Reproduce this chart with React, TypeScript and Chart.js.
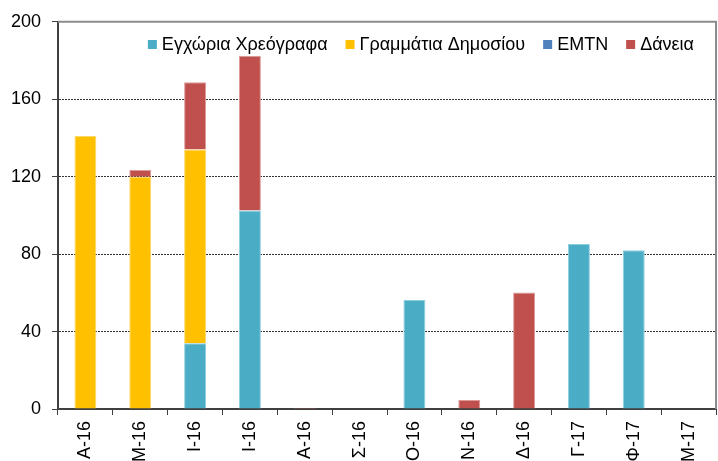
import React, { useEffect, useRef } from "react";
import { Chart, registerables } from "chart.js";

Chart.register(...registerables);

const categories = ["Α-16", "Μ-16", "Ι-16", "Ι-16", "Α-16", "Σ-16", "Ο-16", "Ν-16", "Δ-16", "Γ-17", "Φ-17", "Μ-17"];
const domesticBonds = [0, 0, 34, 102.5, 0, 0, 56.3, 0, 0, 85.2, 82, 0];
const treasuryBills = [141, 120, 100, 0, 0, 0, 0, 0, 0, 0, 0, 0];
const emtn = [0, 0, 0, 0, 0, 0, 0, 0, 0, 0, 0, 0];
const loans = [0, 3.5, 34.8, 80, 0.5, 0, 0, 4.6, 60.2, 0, 0, 0];
const yTicks = [0, 40, 80, 120, 160, 200];

const seriesLabels = ["Εγχώρια Χρεόγραφα", "Γραμμάτια Δημοσίου", "EMTN", "Δάνεια"];
const seriesColors = ["#4BACC6", "#FFC000", "#4F81BD", "#C0504D"];
const seriesBorders = ["#8ccfe0", "#ffd966", "#95b3d7", "#dc9a98"];

const FONT = "'Liberation Sans', Arial, sans-serif";

const framePlugin = {
  id: "frame",
  beforeDatasetsDraw(chart: any) {
    const { ctx, chartArea } = chart;
    ctx.save();
    ctx.strokeStyle = "#8c8c8c";
    ctx.lineWidth = 2;
    ctx.beginPath();
    ctx.moveTo(chartArea.left, chartArea.top);
    ctx.lineTo(chartArea.right, chartArea.top);
    ctx.lineTo(chartArea.right, chartArea.bottom);
    ctx.stroke();
    ctx.restore();
  },
};

const legendPlugin = {
  id: "insideLegend",
  afterDraw(chart: any) {
    const { ctx } = chart;
    ctx.save();
    ctx.font = `18px ${FONT}`;
    ctx.textBaseline = "alphabetic";
    ctx.textAlign = "left";
    const box = 9;
    const gapBoxText = 5;
    const gapItems = 18;
    const items = chart.data.datasets.map((d: any) => ({
      label: d.label as string,
      color: d.backgroundColor as string,
      w: ctx.measureText(d.label).width,
    }));
    const total = items.reduce((s: number, it: any, i: number) => s + box + gapBoxText + it.w + (i < items.length - 1 ? gapItems : 0), 0);
    let x = 694 - total;
    const baseline = 50;
    for (const it of items) {
      ctx.fillStyle = it.color;
      ctx.fillRect(x, 40, box, box);
      x += box + gapBoxText;
      ctx.fillStyle = "#000";
      ctx.fillText(it.label, x, baseline);
      x += it.w + gapItems;
    }
    ctx.restore();
  },
};

export default function App() {
  const ref = useRef<HTMLCanvasElement | null>(null);
  useEffect(() => {
    document.body.style.margin = "0";
    const values = [domesticBonds, treasuryBills, emtn, loans];
    const chart = new Chart(ref.current as HTMLCanvasElement, {
      type: "bar",
      data: {
        labels: categories,
        datasets: values.map((v, i) => ({
          label: seriesLabels[i],
          data: v,
          backgroundColor: seriesColors[i],
          borderColor: seriesBorders[i],
          borderWidth: 1,
          barPercentage: 0.4,
          categoryPercentage: 1,
        })),
      },
      options: {
        responsive: false,
        animation: false,
        layout: { padding: { top: 21, right: 2, left: 0, bottom: 0 } },
        plugins: { legend: { display: false }, tooltip: { enabled: false } },
        scales: {
          x: {
            stacked: true,
            grid: { display: true, drawOnChartArea: false, offset: true, tickLength: 6, color: "#404040", lineWidth: 1 },
            border: { display: true, color: "#404040", width: 2 },
            ticks: {
              color: "#000",
              font: { family: FONT, size: 18 },
              minRotation: 90,
              maxRotation: 90,
              padding: 6,
              autoSkip: false,
            },
            afterFit(scale: any) {
              scale.height = 52;
            },
          },
          y: {
            stacked: true,
            min: 0,
            max: 200,
            afterBuildTicks(scale: any) {
              scale.ticks = yTicks.map((v) => ({ value: v }));
            },
            grid: {
              color: "#333",
              lineWidth: 1,
              tickLength: 6,
              tickColor: "#404040",
            },
            border: { display: true, color: "#404040", width: 2, dash: [2, 1] },
            ticks: {
              color: "#000",
              font: { family: FONT, size: 18 },
              padding: 11,
            },
            afterFit(scale: any) {
              scale.width = 58;
            },
          },
        },
      },
      plugins: [framePlugin, legendPlugin],
    });
    return () => chart.destroy();
  }, []);
  return (
    <div style={{ position: "absolute", left: 0, top: 0, width: 718, height: 461 }}>
      <canvas ref={ref} width={718} height={461} />
    </div>
  );
}
